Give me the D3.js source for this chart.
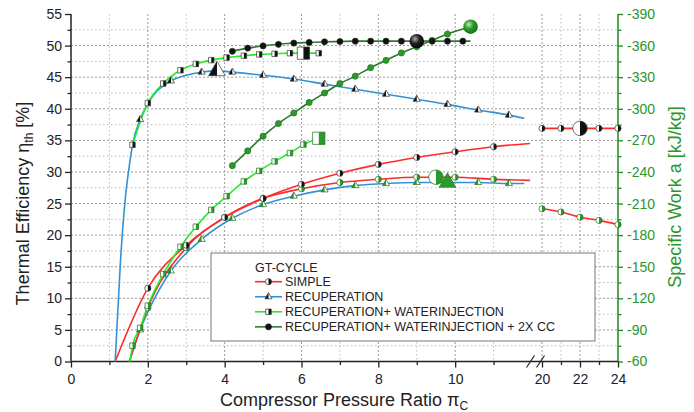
<!DOCTYPE html>
<html>
<head>
<meta charset="utf-8">
<script src="https://cdn.jsdelivr.net/npm/d3@7"></script>
<style>
body{margin:0;background:#fff;}
text{font-family:"Liberation Sans",Arial,sans-serif;}
</style>
</head>
<body>
<svg width="694" height="412"></svg>
<script>
// values: pressure ratio -> efficiency [%] or specific work [kJ/kg]
var simpleEffX = [1.15, 2, 3, 4, 5, 6, 7, 8, 9, 10, 11, 11.95];
var simpleEffY = [0, 11.6, 18.4, 22.8, 25.8, 28.05, 29.8, 31.2, 32.3, 33.2, 34.0, 34.5];
var simpleEffMarks = [2, 3, 4, 5, 6, 7, 8, 9, 10, 11];
var simpleEffHiX = [20, 21, 22, 23, 24];
var simpleEffHiY = [36.9, 36.9, 36.9, 36.9, 36.9];

var simpleWorkX = [1.52, 2, 3, 4, 5, 6, 7, 8, 9, 9.5, 10, 11, 11.95];
var simpleWorkY = [-60, -111, -168, -197, -215, -224, -230, -233, -235, -235, -235, -233, -232];
var simpleWorkMarks = [2, 3, 4, 5, 6, 7, 8, 9, 9.5, 10, 11];
var simpleWorkHiX = [20, 21, 22, 23, 24];
var simpleWorkHiY = [-205, -202, -197, -194, -190];

var recupEffX = [1.15, 1.29, 1.41, 1.54, 1.6, 1.8, 2.0, 2.6, 3.4, 3.8, 4.2, 5.0, 5.8, 6.6, 7.4, 8.2, 9.0, 9.8, 10.6, 11.4, 11.8];
var recupEffY = [0, 16.1, 25.6, 31.9, 34.2, 38.3, 40.8, 44.4, 45.8, 46.0, 45.8, 45.3, 44.7, 43.9, 43.1, 42.3, 41.5, 40.7, 39.8, 39.0, 38.5];
var recupEffMarks = [1.8, 2.6, 3.4, 3.8, 4.2, 5.0, 5.8, 6.6, 7.4, 8.2, 9.0, 9.8, 10.6, 11.4];

var recupWorkX = [1.52, 1.8, 2.0, 2.6, 3.4, 4.2, 5.0, 5.8, 6.6, 7.4, 8.2, 9.0, 9.8, 10.6, 11.4, 11.8];
var recupWorkY = [-60, -90, -107, -146, -176, -196, -209, -217, -223, -227, -229, -230, -230, -230, -229, -229];
var recupWorkMarks = [1.8, 2.6, 3.4, 4.2, 5.0, 5.8, 6.6, 7.4, 8.2, 9.0, 9.8, 10.6, 11.4];

var wiEffX = [1.6, 2.0, 2.4, 2.85, 3.25, 3.65, 4.05, 4.5, 4.9, 5.3, 5.7, 6.05, 6.45];
var wiEffY = [34.3, 40.9, 44.0, 46.1, 47.1, 47.7, 48.1, 48.4, 48.6, 48.7, 48.8, 48.8, 48.8];

var wiWorkX = [1.54, 1.6, 1.8, 2.0, 2.4, 2.85, 3.25, 3.65, 4.05, 4.5, 4.9, 5.3, 5.7, 6.05, 6.45];
var wiWorkY = [-60, -75, -92, -113, -143, -169, -188, -204, -217, -231, -241, -250, -258, -266, -272];

var ccEffX = [4.2, 4.6, 5.0, 5.4, 5.8, 6.2, 6.6, 7.0, 7.4, 7.8, 8.2, 8.6, 9.0, 9.4, 9.8, 10.2, 10.4];
var ccEffY = [49.1, 49.6, 49.95, 50.2, 50.4, 50.5, 50.6, 50.65, 50.7, 50.7, 50.7, 50.7, 50.7, 50.7, 50.7, 50.7, 50.7];

var ccWorkX = [4.2, 4.6, 5.0, 5.4, 5.8, 6.2, 6.6, 7.0, 7.4, 7.8, 8.2, 8.6, 9.0, 9.4, 9.8, 10.4];
var ccWorkY = [-246, -260, -274, -286, -296, -306, -315, -324, -331, -339, -346, -353, -359, -365, -371, -378];

var xTicksLow = [0, 2, 4, 6, 8, 10];
var xTicksHigh = [20, 22, 24];
var effTicks = [0, 5, 10, 15, 20, 25, 30, 35, 40, 45, 50, 55];
var workTicks = [-60, -90, -120, -150, -180, -210, -240, -270, -300, -330, -360, -390];

var legendTitle = "GT-CYCLE";
var legendNames = ["SIMPLE", "RECUPERATION", "RECUPERATION+ WATERINJECTION", "RECUPERATION+ WATERINJECTION + 2X CC"];

var red = "#ff2b2b", blue = "#3193d6", lime = "#22ee22", dkgreen = "#2b7b2b";
var black = "#111", green = "#2a9a2a";

var svg = d3.select("svg");

var x1 = d3.scaleLinear().domain([0, 12]).range([71, 532]);
var x2 = d3.scaleLinear().domain([20, 24]).range([542, 618]);
function px(v) { return v < 15 ? x1(v) : x2(v); }
var yL = d3.scaleLinear().domain([0, 55]).range([361.5, 14]);
var yR = d3.scaleLinear().domain([-60, -390]).range([361.5, 14]);

// defs: half clips and ball gradients
var defs = svg.append("defs");
defs.append("clipPath").attr("id", "rightHalf").append("rect").attr("x", 0).attr("y", -20).attr("width", 20).attr("height", 40);
defs.append("clipPath").attr("id", "leftHalf").append("rect").attr("x", -20).attr("y", -20).attr("width", 20).attr("height", 40);
var gk = defs.append("radialGradient").attr("id", "ballK").attr("cx", 0.38).attr("cy", 0.35).attr("r", 0.7);
gk.append("stop").attr("offset", 0).attr("stop-color", "#aaa");
gk.append("stop").attr("offset", 0.45).attr("stop-color", "#222");
gk.append("stop").attr("offset", 1).attr("stop-color", "#000");
var gg = defs.append("radialGradient").attr("id", "ballG").attr("cx", 0.38).attr("cy", 0.35).attr("r", 0.7);
gg.append("stop").attr("offset", 0).attr("stop-color", "#b8eab8");
gg.append("stop").attr("offset", 0.45).attr("stop-color", "#2a9a2a");
gg.append("stop").attr("offset", 1).attr("stop-color", "#176d17");

// grid
var hGrid = d3.range(2.5, 53, 2.5);
svg.selectAll(".hgrid").data(hGrid).enter().append("line")
	.attr("x1", 71).attr("x2", 618)
	.attr("y1", d => yL(d)).attr("y2", d => yL(d))
	.attr("stroke", d => d % 5 == 0 ? "#999" : "#bbb")
	.attr("stroke-dasharray", d => d % 5 == 0 ? "2,2" : "1.5,2.5");
var vGrid = [1, 2, 3, 4, 5, 6, 7, 8, 9, 10, 11, 20, 21, 22, 23];
svg.selectAll(".vgrid").data(vGrid).enter().append("line")
	.attr("x1", d => px(d)).attr("x2", d => px(d))
	.attr("y1", 14).attr("y2", 361.5)
	.attr("stroke", d => d % 2 == 0 ? "#999" : "#bbb")
	.attr("stroke-dasharray", d => d % 2 == 0 ? "2,2" : "1.5,2.5");

// legend box (under the curves)
svg.append("rect").attr("x", 211).attr("y", 253).attr("width", 384).attr("height", 88)
	.attr("fill", "#fff").attr("stroke", "#777").attr("stroke-width", 1);

function styleAxis(g, color, fsize) {
	g.select(".domain").remove();
	g.selectAll(".tick line").attr("stroke", color).attr("stroke-width", 1.3);
	g.selectAll(".tick text").attr("fill", color).style("font-size", fsize).style("font-family", "Liberation Sans, Arial, sans-serif");
}

// left axis
var gl = svg.append("g").attr("transform", "translate(71,0)")
	.call(d3.axisLeft(yL).tickValues(effTicks).tickSize(6).tickPadding(3));
styleAxis(gl, "#222", "14px");
var glm = svg.append("g").attr("transform", "translate(71,0)")
	.call(d3.axisLeft(yL).tickValues(d3.range(2.5, 55, 5)).tickSize(3.5).tickFormat(""));
styleAxis(glm, "#222", "14px");
svg.append("line").attr("x1", 71).attr("x2", 71).attr("y1", 14).attr("y2", 361.5).attr("stroke", "#222").attr("stroke-width", 1.5);

// right axis
var gr = svg.append("g").attr("transform", "translate(618,0)")
	.call(d3.axisRight(yR).tickValues(workTicks).tickSize(5).tickPadding(4).tickFormat(d => "" + d));
styleAxis(gr, "#2a962a", "14px");
gr.selectAll(".tick line").attr("stroke", "#1e8a1e");
var grm = svg.append("g").attr("transform", "translate(618,0)")
	.call(d3.axisRight(yR).tickValues(d3.range(-75, -390, -30)).tickSize(3.5).tickFormat(""));
styleAxis(grm, "#1e8a1e", "14px");
svg.append("line").attr("x1", 618).attr("x2", 618).attr("y1", 14).attr("y2", 361.5).attr("stroke", "#1e8a1e").attr("stroke-width", 1.5);

// bottom axis, two segments
var gb1 = svg.append("g").attr("transform", "translate(0,361.5)")
	.call(d3.axisBottom(x1).tickValues(xTicksLow).tickSize(6).tickPadding(7).tickFormat(d => "" + d));
styleAxis(gb1, "#222", "14px");
var gb1m = svg.append("g").attr("transform", "translate(0,361.5)")
	.call(d3.axisBottom(x1).tickValues([1, 3, 5, 7, 9, 11]).tickSize(3.5).tickFormat(""));
styleAxis(gb1m, "#222", "14px");
var gb2 = svg.append("g").attr("transform", "translate(0,361.5)")
	.call(d3.axisBottom(x2).tickValues(xTicksHigh).tickSize(6).tickPadding(7).tickFormat(d => "" + d));
styleAxis(gb2, "#222", "14px");
var gb2m = svg.append("g").attr("transform", "translate(0,361.5)")
	.call(d3.axisBottom(x2).tickValues([21, 23]).tickSize(3.5).tickFormat(""));
styleAxis(gb2m, "#222", "14px");
svg.append("line").attr("x1", 71).attr("x2", 618).attr("y1", 361.5).attr("y2", 361.5).attr("stroke", "#222").attr("stroke-width", 1.5);
// axis break marks
[530.5, 540.5].forEach(function(bx) {
	svg.append("line").attr("x1", bx - 4).attr("y1", 367.5).attr("x2", bx + 4).attr("y2", 355.5)
		.attr("stroke", "#222").attr("stroke-width", 1.2);
});

// curves
function pairs(xs, ys) { return xs.map((x, i) => [x, ys[i]]); }
var lineL = d3.line().x(d => px(d[0])).y(d => yL(d[1])).curve(d3.curveMonotoneX);
var lineR = d3.line().x(d => px(d[0])).y(d => yR(d[1])).curve(d3.curveMonotoneX);

var series = [
	{x: recupWorkX, y: recupWorkY, axis: "R", color: blue, shape: "triangle", fill: green, small: "half", marks: recupWorkMarks, big: 9.8, bigStyle: "full"},
	{x: simpleWorkX, y: simpleWorkY, axis: "R", color: red, shape: "circle", fill: green, small: "half", marks: simpleWorkMarks, big: 9.5, bigStyle: "half"},
	{x: simpleWorkHiX, y: simpleWorkHiY, axis: "R", color: red, shape: "circle", fill: green, small: "half", marks: simpleWorkHiX, big: null},
	{x: simpleEffX, y: simpleEffY, axis: "L", color: red, shape: "circle", fill: black, small: "half", marks: simpleEffMarks, big: null},
	{x: simpleEffHiX, y: simpleEffHiY, axis: "L", color: red, shape: "circle", fill: black, small: "half", marks: simpleEffHiX, big: 22, bigStyle: "half"},
	{x: recupEffX, y: recupEffY, axis: "L", color: blue, shape: "triangle", fill: black, small: "half", marks: recupEffMarks, big: 3.8, bigStyle: "half"},
	{x: wiWorkX, y: wiWorkY, axis: "R", color: lime, shape: "square", fill: green, small: "half", marks: wiWorkX.slice(1), big: 6.45, bigStyle: "half"},
	{x: wiEffX, y: wiEffY, axis: "L", color: lime, shape: "square", fill: black, small: "half", marks: wiEffX, big: 6.05, bigStyle: "half"},
	{x: ccWorkX, y: ccWorkY, axis: "R", color: dkgreen, shape: "circle", fill: green, small: "full", marks: ccWorkX, big: 10.4, bigStyle: "sphere"},
	{x: ccEffX, y: ccEffY, axis: "L", color: dkgreen, shape: "circle", fill: black, small: "full", marks: ccEffX.slice(0, -1), big: 9.0, bigStyle: "sphere"}
];

var shapes = {circle: d3.symbolCircle, triangle: d3.symbolTriangle, square: d3.symbolSquare};
var smallSize = {circle: 30, triangle: 22, square: 30};
var bigSize = {circle: 165, triangle: 120, square: 150};

function drawMarker(g, shape, size, color, style) {
	var d = d3.symbol().type(shapes[shape]).size(size)();
	var edge = color == black ? "#333" : "#1b6b1b";
	if (style == "sphere") {
		g.append("circle").attr("r", Math.sqrt(size / Math.PI))
			.attr("fill", color == black ? "url(#ballK)" : "url(#ballG)");
		return;
	}
	if (style == "full") {
		g.append("path").attr("d", d).attr("fill", color).attr("stroke", edge).attr("stroke-width", 0.6);
		return;
	}
	g.append("path").attr("d", d).attr("fill", "#fff");
	g.append("path").attr("d", d).attr("fill", color)
		.attr("clip-path", shape == "triangle" ? "url(#leftHalf)" : "url(#rightHalf)");
	g.append("path").attr("d", d).attr("fill", "none").attr("stroke", edge).attr("stroke-width", 0.7);
}

series.forEach(function(s) {
	var pts = pairs(s.x, s.y);
	svg.append("path").attr("d", (s.axis == "L" ? lineL : lineR)(pts))
		.attr("fill", "none").attr("stroke", s.color).attr("stroke-width", 1.6);
});
series.forEach(function(s) {
	var yS = s.axis == "L" ? yL : yR;
	pairs(s.x, s.y).forEach(function(p) {
		if (s.marks.indexOf(p[0]) < 0) return;
		var g = svg.append("g").attr("transform", "translate(" + px(p[0]) + "," + yS(p[1]) + ")");
		if (p[0] === s.big) drawMarker(g, s.shape, bigSize[s.shape], s.fill, s.bigStyle);
		else drawMarker(g, s.shape, smallSize[s.shape], s.fill, s.small);
	});
});

// legend entries
svg.append("text").attr("x", 255).attr("y", 271.7).text(legendTitle)
	.style("font-size", "12.5px").attr("fill", "#222");
var legColors = [red, blue, lime, dkgreen];
var legShapes = ["circle", "triangle", "square", "circle"];
var legStyles = ["half", "half", "half", "full"];
legendNames.forEach(function(name, i) {
	var yy = 281.7 + i * 15.05;
	svg.append("line").attr("x1", 255).attr("x2", 282).attr("y1", yy).attr("y2", yy)
		.attr("stroke", legColors[i]).attr("stroke-width", 1.6);
	drawMarker(svg.append("g").attr("transform", "translate(268.5," + yy + ")"), legShapes[i], smallSize[legShapes[i]], black, legStyles[i]);
	svg.append("text").attr("x", 285).attr("y", yy + 4.5).text(name)
		.style("font-size", "12.5px").attr("fill", "#222");
});

// axis titles
var tl = svg.append("text").attr("transform", "translate(29,203.5) rotate(-90)")
	.attr("text-anchor", "middle").style("font-size", "18px").attr("fill", "#222");
tl.append("tspan").text("Thermal Efficiency \u03b7");
tl.append("tspan").text("th").style("font-size", "12px").attr("dy", 4);
tl.append("tspan").text(" [%]").attr("dy", -4);

var tb = svg.append("text").attr("x", 220).attr("y", 406).style("font-size", "18px").attr("fill", "#222");
tb.append("tspan").text("Compressor Pressure Ratio \u03c0");
tb.append("tspan").text("C").style("font-size", "12px").attr("dy", 4);

svg.append("text").attr("transform", "translate(681,197) rotate(-90)")
	.attr("text-anchor", "middle").style("font-size", "18px").attr("fill", "#2a962a")
	.text("Specific Work a [kJ/kg]");
</script>
</body>
</html>
